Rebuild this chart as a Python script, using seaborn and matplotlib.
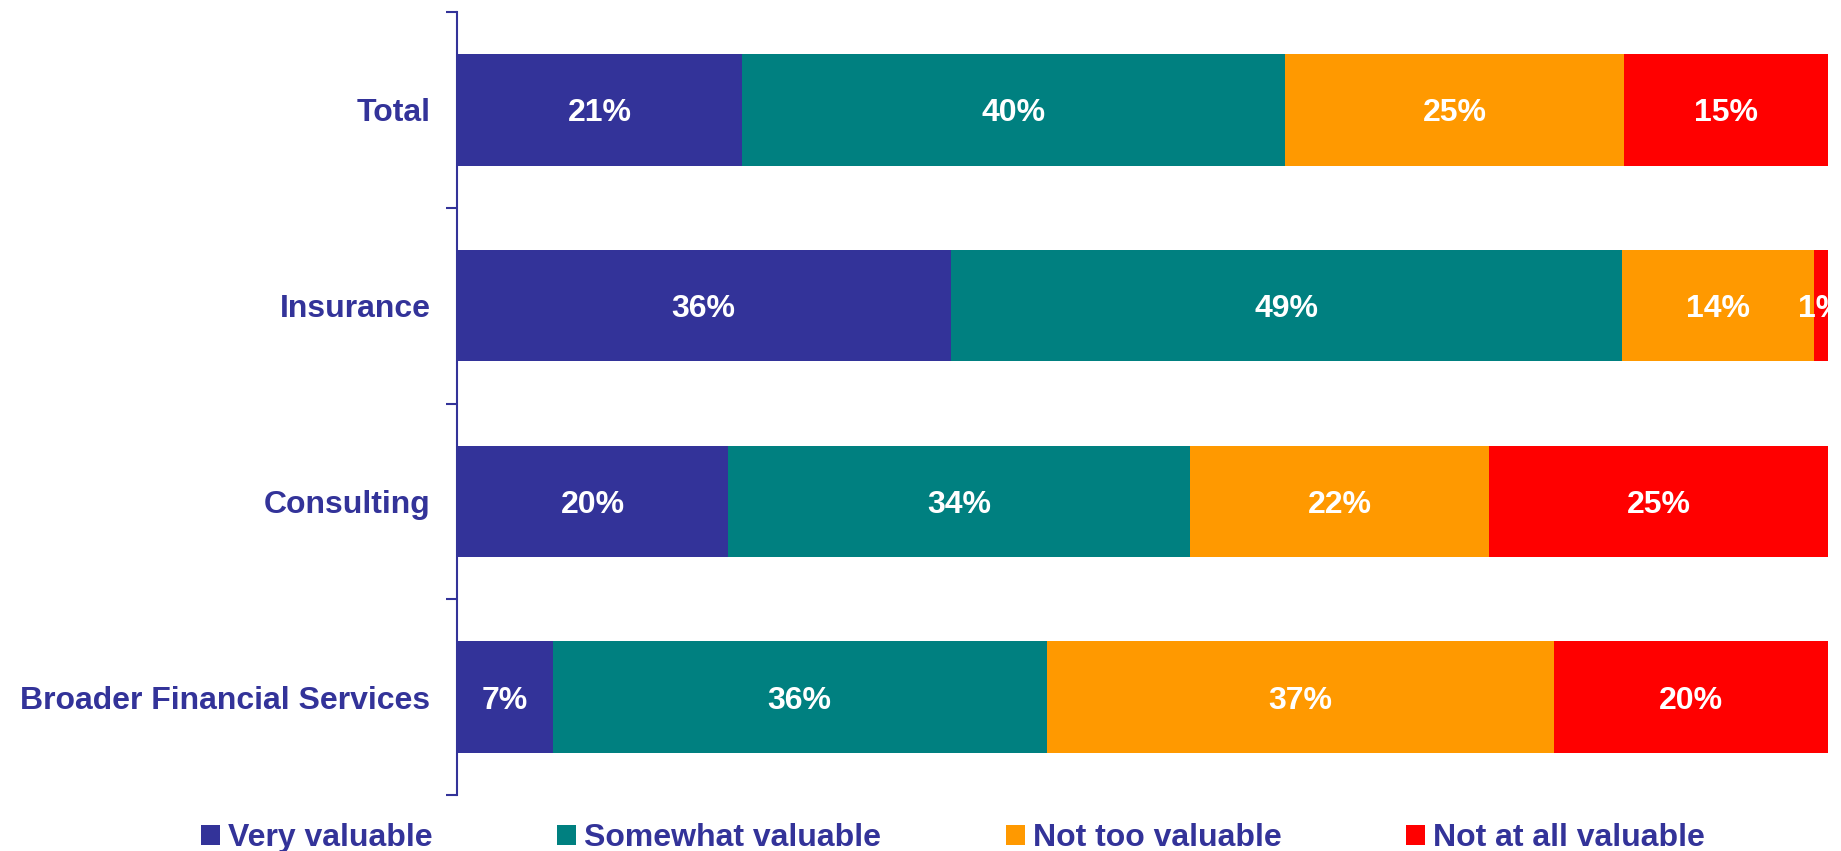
import pandas as pd
import seaborn as sns
import matplotlib.pyplot as plt
from matplotlib.patches import Patch

# Data
groups = ["Total", "Insurance", "Consulting", "Broader Financial Services"]
levels = ["Very valuable", "Somewhat valuable", "Not too valuable", "Not at all valuable"]
very_valuable = [21, 36, 20, 7]
somewhat_valuable = [40, 49, 34, 36]
not_too_valuable = [25, 14, 22, 37]
not_at_all_valuable = [15, 1, 25, 20]
colors = ["#333399", "#008080", "#FF9900", "#FF0000"]
navy = "#333399"

sns.set_theme(style="white")
plt.rcParams["font.family"] = ["Liberation Sans", "DejaVu Sans"]

df = pd.DataFrame(
    dict(zip(levels, [very_valuable, somewhat_valuable, not_too_valuable, not_at_all_valuable])),
    index=groups,
)
# bars are drawn to full width, so normalise each row
share = df.div(df.sum(axis=1), axis=0) * 100
cum = share.cumsum(axis=1)

fig = plt.figure(figsize=(18.41, 8.51), dpi=100)
ax = fig.add_axes([0.2482, 0.0658, 0.7448, 0.9201])

# stacked bars: draw cumulative totals, longest first
for level, color in reversed(list(zip(levels, colors))):
    sns.barplot(x=cum[level].values, y=groups, color=color, orient="h",
                width=0.57, saturation=1, errorbar=None, linewidth=0, ax=ax)

# segment labels
for level in levels:
    centers = cum[level] - share[level] / 2
    for i, g in enumerate(groups):
        ax.text(centers[g], i, f"{df.loc[g, level]}%", ha="center", va="center_baseline",
                color="white", fontsize=23, fontweight="bold")

ax.set_xlim(0, 100)
ax.set_ylim(3.5, -0.5)
ax.set_xlabel("")
ax.set_ylabel("")
ax.set_xticks([])
ax.set_yticks([-0.5, 0.5, 1.5, 2.5, 3.5], minor=True)
ax.tick_params(axis="y", which="major", length=0, pad=19, labelsize=23, labelcolor=navy)
ax.tick_params(axis="y", which="minor", left=True, length=8, width=1.5, color=navy)
for lbl in ax.get_yticklabels():
    lbl.set_fontweight("bold")
    lbl.set_verticalalignment("center_baseline")

for side in ["top", "right", "bottom"]:
    ax.spines[side].set_visible(False)
ax.spines["left"].set_color(navy)
ax.spines["left"].set_linewidth(1.5)

handles = [Patch(facecolor=c, edgecolor="none") for c in colors]
fig.legend(handles, levels, loc="center", bbox_to_anchor=(953 / 1841, 13 / 851),
           ncol=4, frameon=False, prop=dict(weight="bold", size=23), labelcolor=navy,
           handlelength=0.6, handleheight=0.6, handletextpad=0.25, columnspacing=3.9,
           borderpad=0, borderaxespad=0)

fig.savefig("out.png", dpi=100)
